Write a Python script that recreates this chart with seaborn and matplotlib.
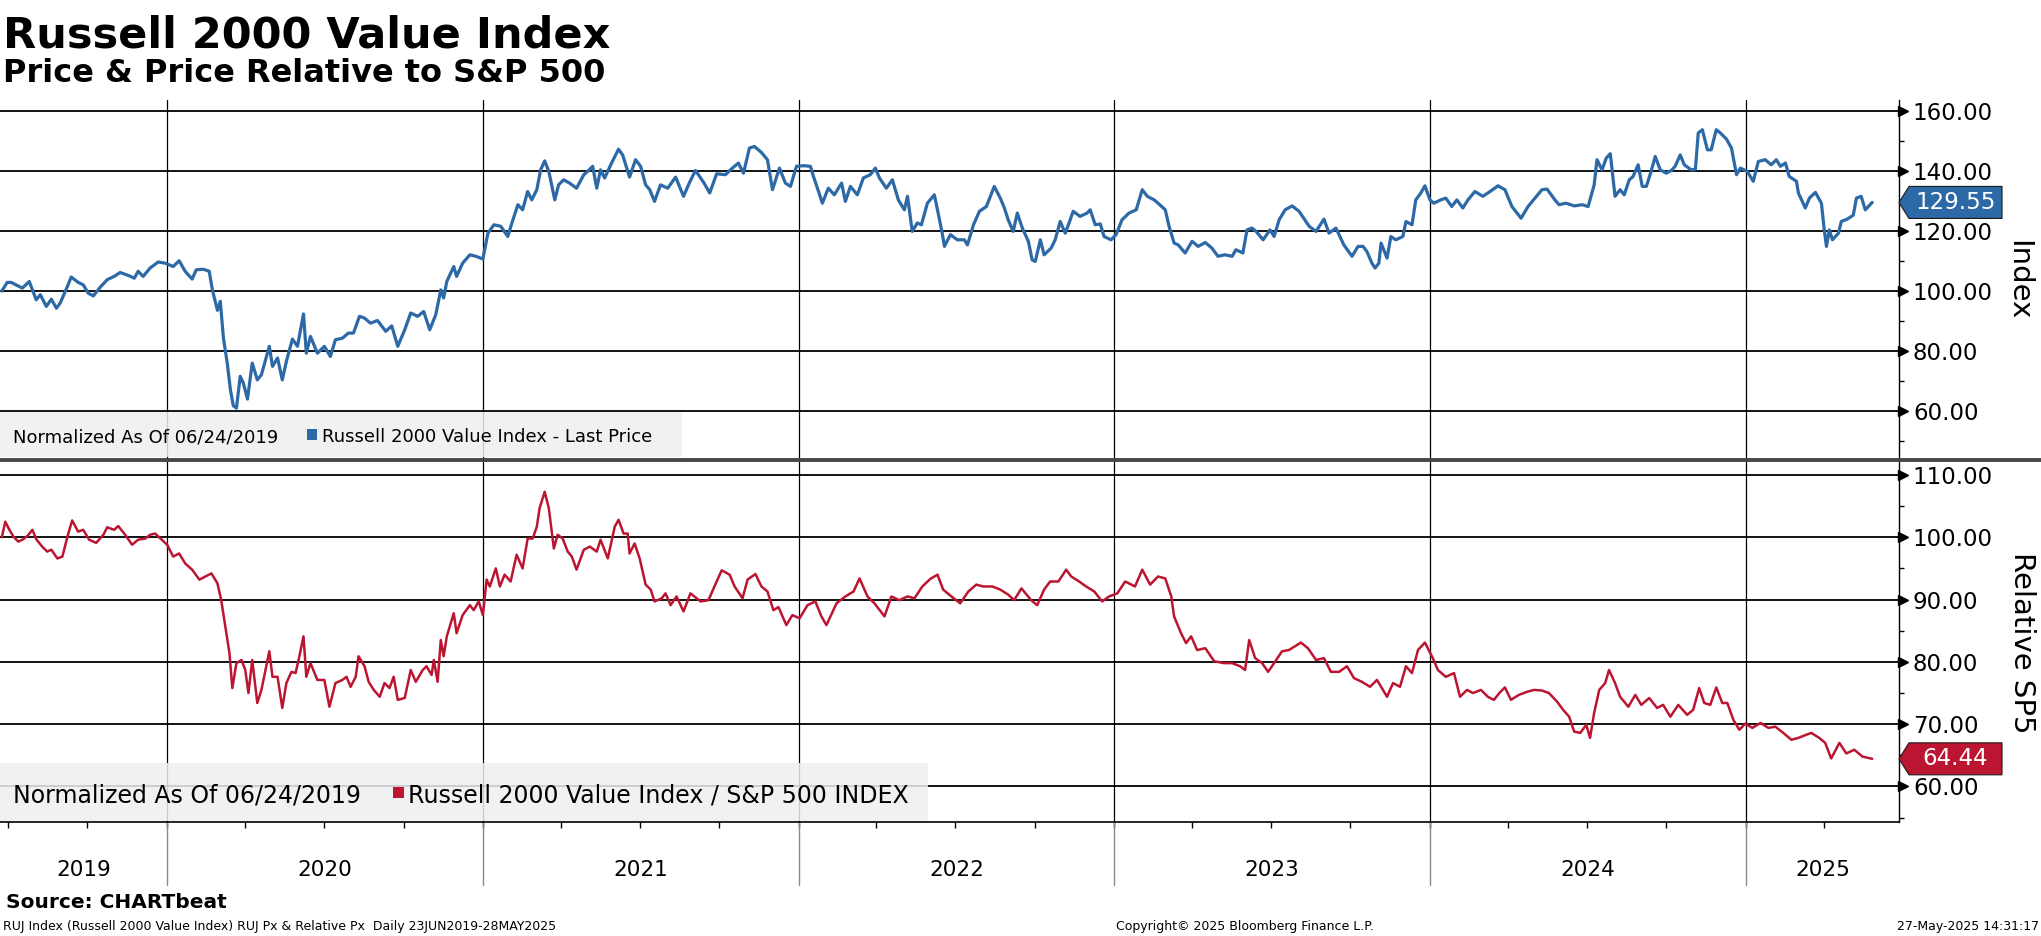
import numpy as np
import pandas as pd
import matplotlib
matplotlib.use("Agg")
import matplotlib.pyplot as plt
import matplotlib.transforms as mtrans
from matplotlib.patches import Polygon, Rectangle
from matplotlib.lines import Line2D
from matplotlib.ticker import FixedLocator, FormatStrFormatter
import seaborn as sns

BLUE = "#2c69a6"
RED = "#bc1531"

# --- data (decimal year, normalized value) ---
price_t = [
    2019.477, 2019.494, 2019.507, 2019.542, 2019.564, 2019.586, 2019.599, 2019.618, 2019.634, 2019.650,
    2019.662, 2019.685, 2019.697, 2019.719, 2019.735, 2019.751, 2019.767, 2019.789, 2019.811, 2019.833,
    2019.852, 2019.881, 2019.897, 2019.909, 2019.925, 2019.947, 2019.973, 2019.995, 2020.020, 2020.039,
    2020.058, 2020.080, 2020.093, 2020.115, 2020.134, 2020.144, 2020.160, 2020.169, 2020.179, 2020.191,
    2020.201, 2020.210, 2020.220, 2020.232, 2020.242, 2020.255, 2020.270, 2020.286, 2020.299, 2020.324,
    2020.334, 2020.350, 2020.365, 2020.378, 2020.397, 2020.413, 2020.432, 2020.441, 2020.454, 2020.476,
    2020.498, 2020.517, 2020.533, 2020.555, 2020.574, 2020.590, 2020.609, 2020.625, 2020.644, 2020.666,
    2020.692, 2020.711, 2020.730, 2020.752, 2020.771, 2020.793, 2020.812, 2020.831, 2020.850, 2020.866,
    2020.875, 2020.885, 2020.907, 2020.916, 2020.935, 2020.958, 2020.977, 2020.999, 2021.015, 2021.034,
    2021.056, 2021.078, 2021.091, 2021.110, 2021.125, 2021.141, 2021.154, 2021.170, 2021.182, 2021.195,
    2021.208, 2021.227, 2021.239, 2021.255, 2021.274, 2021.296, 2021.319, 2021.331, 2021.347, 2021.360,
    2021.372, 2021.385, 2021.407, 2021.429, 2021.442, 2021.464, 2021.483, 2021.499, 2021.515, 2021.528,
    2021.543, 2021.562, 2021.585, 2021.610, 2021.635, 2021.654, 2021.673, 2021.699, 2021.718, 2021.740,
    2021.768, 2021.790, 2021.809, 2021.825, 2021.844, 2021.860, 2021.882, 2021.901, 2021.917, 2021.939,
    2021.958, 2021.974, 2021.993, 2022.015, 2022.037, 2022.047, 2022.063, 2022.075, 2022.094, 2022.113,
    2022.136, 2022.148, 2022.164, 2022.186, 2022.205, 2022.227, 2022.243, 2022.256, 2022.278, 2022.297,
    2022.316, 2022.335, 2022.345, 2022.360, 2022.376, 2022.389, 2022.408, 2022.430, 2022.440, 2022.455,
    2022.462, 2022.481, 2022.503, 2022.525, 2022.535, 2022.554, 2022.573, 2022.595, 2022.620, 2022.639,
    2022.652, 2022.664, 2022.680, 2022.693, 2022.709, 2022.728, 2022.740, 2022.750, 2022.766, 2022.778,
    2022.800, 2022.813, 2022.829, 2022.845, 2022.857, 2022.870, 2022.892, 2022.914, 2022.924, 2022.940,
    2022.956, 2022.968, 2022.990, 2023.006, 2023.025, 2023.047, 2023.070, 2023.089, 2023.105, 2023.127,
    2023.139, 2023.162, 2023.174, 2023.190, 2023.203, 2023.225, 2023.247, 2023.266, 2023.289, 2023.310,
    2023.329, 2023.351, 2023.374, 2023.386, 2023.408, 2023.421, 2023.437, 2023.450, 2023.472, 2023.494,
    2023.507, 2023.523, 2023.542, 2023.564, 2023.586, 2023.618, 2023.640, 2023.665, 2023.681, 2023.703,
    2023.728, 2023.754, 2023.773, 2023.789, 2023.801, 2023.817, 2023.827, 2023.839, 2023.846, 2023.865,
    2023.877, 2023.893, 2023.915, 2023.925, 2023.944, 2023.956, 2023.972, 2023.985, 2024.001, 2024.013,
    2024.035, 2024.051, 2024.070, 2024.086, 2024.105, 2024.121, 2024.143, 2024.168, 2024.191, 2024.216,
    2024.238, 2024.260, 2024.289, 2024.311, 2024.333, 2024.355, 2024.371, 2024.396, 2024.409, 2024.431,
    2024.457, 2024.482, 2024.501, 2024.520, 2024.529, 2024.545, 2024.558, 2024.571, 2024.586, 2024.602,
    2024.615, 2024.631, 2024.643, 2024.659, 2024.672, 2024.685, 2024.700, 2024.713, 2024.729, 2024.748,
    2024.764, 2024.776, 2024.792, 2024.805, 2024.827, 2024.840, 2024.849, 2024.862, 2024.878, 2024.890,
    2024.906, 2024.919, 2024.938, 2024.954, 2024.970, 2024.982, 2025.004, 2025.023, 2025.039, 2025.061,
    2025.080, 2025.096, 2025.109, 2025.125, 2025.137, 2025.160, 2025.166, 2025.188, 2025.201, 2025.220,
    2025.239, 2025.248, 2025.255, 2025.264, 2025.274, 2025.293, 2025.302, 2025.321, 2025.340, 2025.350,
    2025.365, 2025.378, 2025.400,
]
price_v = [
    100.0, 102.9, 102.9, 101.0, 103.2, 97.1, 98.8, 94.9, 97.3, 94.3,
    96.0, 101.6, 104.7, 102.9, 102.1, 99.3, 98.4, 101.3, 103.8, 104.9,
    106.2, 105.1, 104.3, 106.6, 104.9, 107.7, 109.7, 109.3, 108.2, 110.1,
    106.6, 104.0, 107.1, 107.3, 106.6, 100.4, 93.6, 96.6, 84.3, 76.0,
    67.1, 61.8, 61.0, 71.6, 69.3, 64.0, 76.0, 70.4, 72.1, 81.6,
    74.9, 77.7, 70.4, 76.6, 84.0, 81.6, 92.4, 79.3, 84.9, 79.3,
    81.6, 78.2, 83.8, 84.3, 86.0, 86.0, 91.6, 91.0, 89.3, 90.2,
    86.6, 88.4, 81.6, 87.1, 92.7, 91.6, 93.2, 87.1, 92.1, 100.4,
    97.7, 103.2, 108.2, 104.9, 109.3, 112.1, 111.6, 110.7, 119.3, 122.1,
    121.6, 118.2, 122.7, 128.8, 127.1, 133.2, 130.4, 133.8, 140.4, 143.4,
    139.9, 130.4, 135.4, 137.1, 136.0, 134.3, 138.8, 139.9, 141.6, 134.3,
    140.4, 137.7, 142.7, 147.3, 145.4, 138.0, 143.8, 141.6, 135.4, 133.8,
    129.9, 135.4, 134.3, 138.0, 131.6, 136.2, 140.2, 136.2, 132.7, 139.1,
    138.8, 141.0, 142.7, 139.3, 147.7, 148.2, 146.2, 143.8, 133.8, 141.0,
    136.0, 134.9, 141.6, 141.8, 141.6, 138.2, 133.2, 129.3, 134.3, 132.1,
    136.0, 129.9, 134.9, 132.1, 137.7, 138.8, 141.0, 137.7, 134.3, 137.1,
    130.4, 127.1, 131.6, 119.9, 122.7, 122.1, 129.3, 132.1, 127.1, 119.3,
    114.9, 118.8, 117.1, 117.1, 115.4, 122.1, 126.6, 128.2, 134.9, 131.0,
    127.7, 123.8, 119.9, 126.0, 121.0, 116.6, 110.4, 109.9, 117.1, 112.1,
    114.3, 117.1, 123.2, 119.3, 122.7, 126.6, 124.9, 126.0, 127.1, 122.1,
    122.4, 118.2, 117.1, 118.8, 123.8, 126.0, 127.1, 133.8, 131.6, 130.4,
    129.3, 127.1, 121.6, 116.0, 115.4, 112.7, 116.6, 114.9, 116.2, 114.3,
    111.6, 112.1, 111.6, 113.8, 112.7, 120.4, 121.0, 119.9, 117.1, 120.4,
    118.2, 123.8, 127.1, 128.4, 126.6, 121.6, 119.9, 124.0, 119.3, 121.0,
    115.4, 111.6, 114.9, 114.9, 113.2, 109.3, 107.7, 109.3, 116.0, 111.0,
    118.2, 117.1, 118.2, 123.2, 122.1, 130.4, 132.7, 135.1, 130.4, 129.3,
    130.4, 131.0, 128.2, 130.4, 127.7, 130.4, 133.2, 131.6, 133.2, 135.1,
    133.8, 128.2, 124.3, 128.2, 131.0, 133.8, 134.0, 130.4, 128.8, 129.3,
    128.4, 128.8, 128.2, 135.4, 143.8, 140.4, 144.3, 145.8, 131.6, 133.8,
    132.1, 137.1, 138.2, 142.1, 134.9, 134.9, 139.9, 144.9, 140.4, 139.3,
    140.2, 141.6, 145.4, 142.1, 140.4, 140.6, 152.7, 153.8, 147.1, 147.1,
    153.8, 152.7, 150.7, 147.7, 138.8, 141.0, 139.9, 136.6, 143.2, 143.8,
    142.1, 143.8, 141.6, 142.7, 138.2, 136.6, 132.7, 127.7, 131.0, 132.9,
    129.3, 120.4, 114.9, 120.4, 117.1, 119.3, 123.2, 124.0, 125.3, 131.0,
    131.6, 127.1, 129.55,
]

rel_t = [
    2019.477, 2019.488, 2019.501, 2019.514, 2019.529, 2019.542, 2019.558, 2019.574, 2019.586, 2019.605,
    2019.621, 2019.634, 2019.653, 2019.669, 2019.685, 2019.700, 2019.719, 2019.735, 2019.754, 2019.776,
    2019.799, 2019.811, 2019.833, 2019.846, 2019.868, 2019.890, 2019.909, 2019.932, 2019.947, 2019.963,
    2019.982, 2020.001, 2020.020, 2020.039, 2020.058, 2020.080, 2020.103, 2020.122, 2020.141, 2020.160,
    2020.172, 2020.185, 2020.198, 2020.207, 2020.220, 2020.236, 2020.248, 2020.258, 2020.270, 2020.286,
    2020.299, 2020.324, 2020.334, 2020.350, 2020.365, 2020.378, 2020.394, 2020.407, 2020.419, 2020.432,
    2020.441, 2020.454, 2020.476, 2020.498, 2020.514, 2020.533, 2020.555, 2020.568, 2020.581, 2020.597,
    2020.606, 2020.625, 2020.638, 2020.654, 2020.673, 2020.688, 2020.704, 2020.717, 2020.730, 2020.752,
    2020.771, 2020.787, 2020.809, 2020.821, 2020.837, 2020.844, 2020.856, 2020.866, 2020.875, 2020.885,
    2020.907, 2020.916, 2020.935, 2020.958, 2020.970, 2020.986, 2020.999, 2021.011, 2021.021, 2021.040,
    2021.053, 2021.068, 2021.087, 2021.106, 2021.125, 2021.141, 2021.157, 2021.170, 2021.179, 2021.195,
    2021.208, 2021.224, 2021.236, 2021.252, 2021.268, 2021.281, 2021.296, 2021.319, 2021.338, 2021.360,
    2021.372, 2021.395, 2021.417, 2021.429, 2021.445, 2021.458, 2021.464, 2021.480, 2021.496, 2021.515,
    2021.531, 2021.543, 2021.566, 2021.578, 2021.594, 2021.613, 2021.635, 2021.657, 2021.689, 2021.714,
    2021.733, 2021.756, 2021.781, 2021.797, 2021.822, 2021.838, 2021.863, 2021.882, 2021.901, 2021.920,
    2021.936, 2021.961, 2021.980, 2022.003, 2022.028, 2022.053, 2022.072, 2022.088, 2022.120, 2022.148,
    2022.174, 2022.193, 2022.218, 2022.240, 2022.272, 2022.294, 2022.319, 2022.345, 2022.367, 2022.392,
    2022.417, 2022.440, 2022.458, 2022.484, 2022.512, 2022.538, 2022.563, 2022.585, 2022.614, 2022.639,
    2022.664, 2022.683, 2022.706, 2022.737, 2022.756, 2022.778, 2022.797, 2022.823, 2022.848, 2022.864,
    2022.889, 2022.911, 2022.937, 2022.962, 2022.984, 2023.010, 2023.035, 2023.066, 2023.089, 2023.114,
    2023.139, 2023.162, 2023.181, 2023.190, 2023.212, 2023.228, 2023.244, 2023.263, 2023.289, 2023.317,
    2023.348, 2023.374, 2023.399, 2023.415, 2023.428, 2023.447, 2023.469, 2023.488, 2023.507, 2023.532,
    2023.554, 2023.592, 2023.614, 2023.640, 2023.665, 2023.687, 2023.713, 2023.738, 2023.760, 2023.785,
    2023.811, 2023.833, 2023.865, 2023.884, 2023.906, 2023.925, 2023.944, 2023.963, 2023.985, 2024.010,
    2024.026, 2024.051, 2024.077, 2024.096, 2024.118, 2024.137, 2024.162, 2024.184, 2024.203, 2024.222,
    2024.238, 2024.257, 2024.282, 2024.308, 2024.330, 2024.355, 2024.377, 2024.403, 2024.422, 2024.441,
    2024.457, 2024.476, 2024.495, 2024.507, 2024.520, 2024.536, 2024.555, 2024.567, 2024.586, 2024.602,
    2024.628, 2024.650, 2024.669, 2024.694, 2024.719, 2024.738, 2024.761, 2024.786, 2024.814, 2024.833,
    2024.852, 2024.868, 2024.887, 2024.906, 2024.925, 2024.941, 2024.960, 2024.979, 2024.998, 2025.020,
    2025.046, 2025.071, 2025.093, 2025.118, 2025.144, 2025.166, 2025.191, 2025.207, 2025.232, 2025.251,
    2025.270, 2025.296, 2025.318, 2025.343, 2025.369, 2025.400,
]
rel_v = [
    100.0, 102.5, 101.2, 100.1, 99.3, 99.6, 100.2, 101.2, 99.7, 98.5,
    97.7, 98.0, 96.6, 96.9, 100.1, 102.7, 100.9, 101.2, 99.6, 99.1,
    100.4, 101.6, 101.2, 101.8, 100.4, 98.8, 99.6, 99.8, 100.4, 100.6,
    99.7, 98.8, 96.9, 97.4, 95.8, 94.8, 93.2, 93.7, 94.2, 92.6,
    89.9, 85.7, 81.4, 75.8, 79.8, 80.3, 78.7, 75.0, 80.3, 73.4,
    75.5, 81.7, 77.6, 77.6, 72.6, 76.6, 78.4, 78.2, 80.9, 84.1,
    77.6, 79.8, 77.1, 77.1, 72.8, 76.6, 77.1, 77.6, 76.0, 77.6,
    80.9, 79.3, 76.8, 75.5, 74.4, 76.6, 75.8, 77.6, 73.9, 74.2,
    78.7, 76.8, 78.7, 79.3, 77.9, 80.3, 76.8, 83.5, 80.9, 84.1,
    87.8, 84.6, 87.5, 89.1, 88.3, 89.7, 87.5, 93.2, 92.1, 95.0,
    92.1, 94.0, 92.9, 97.2, 95.0, 99.8, 99.8, 101.7, 104.7, 107.3,
    104.7, 98.2, 100.4, 99.8, 97.7, 96.9, 94.8, 98.0, 98.5, 97.7,
    99.6, 96.6, 101.7, 102.8, 100.6, 100.6, 97.4, 99.0, 96.6, 92.4,
    91.6, 89.7, 90.2, 91.0, 89.1, 90.5, 88.1, 91.0, 89.7, 89.9,
    92.1, 94.7, 94.0, 92.1, 90.2, 93.2, 94.1, 92.1, 91.3, 88.3,
    88.8, 85.9, 87.5, 87.0, 89.1, 89.7, 87.3, 85.9, 89.4, 90.5,
    91.3, 93.4, 90.5, 89.4, 87.3, 90.5, 89.9, 90.5, 90.2, 92.1,
    93.3, 94.0, 91.6, 90.5, 89.4, 91.3, 92.4, 92.1, 92.1, 91.6,
    90.8, 89.9, 91.8, 89.9, 89.1, 91.6, 92.9, 92.9, 94.8, 93.7,
    92.9, 92.1, 91.3, 89.7, 90.5, 91.0, 92.9, 92.1, 94.8, 92.4,
    93.7, 93.4, 90.5, 87.3, 84.6, 83.0, 84.1, 81.9, 82.2, 80.1,
    79.8, 79.8, 79.3, 78.7, 83.5, 80.6, 79.8, 78.4, 79.8, 81.7,
    81.9, 83.1, 82.2, 80.3, 80.6, 78.4, 78.4, 79.3, 77.4, 76.8,
    76.0, 77.1, 74.4, 76.6, 76.0, 79.3, 78.2, 81.9, 83.1, 80.6,
    78.7, 77.6, 78.2, 74.4, 75.5, 75.0, 75.5, 74.4, 73.9, 75.1,
    75.9, 73.9, 74.7, 75.2, 75.5, 75.4, 75.0, 73.6, 72.3, 71.2,
    68.8, 68.6, 69.9, 67.8, 71.8, 75.5, 76.6, 78.7, 76.6, 74.4,
    72.8, 74.7, 73.1, 74.2, 72.6, 73.1, 71.2, 73.1, 71.5, 72.3,
    75.8, 73.4, 73.1, 75.9, 73.4, 73.4, 70.7, 69.1, 70.1, 69.4,
    70.2, 69.4, 69.6, 68.6, 67.5, 67.8, 68.3, 68.6, 67.8, 67.0,
    64.5, 67.0, 65.3, 65.9, 64.8, 64.44,
]

price_last = 129.55
rel_last = 64.44
year_bounds = [2020, 2021, 2022, 2023, 2024, 2025]
year_labels = ["2019", "2020", "2021", "2022", "2023", "2024", "2025"]
price_ticks = [60, 80, 100, 120, 140, 160]
price_minor = [50, 70, 90, 110, 130, 150]
rel_ticks = [60, 70, 80, 90, 100, 110]
rel_minor = [55, 65, 75, 85, 95, 105]
x_start, x_end = pd.Timestamp("2019-06-22"), pd.Timestamp("2025-06-27")


def to_dates(ts):
    out = []
    for t in ts:
        y = int(np.floor(t))
        start = pd.Timestamp(year=y, month=1, day=1)
        n = (pd.Timestamp(year=y + 1, month=1, day=1) - start).days
        out.append(start + pd.Timedelta(days=(t - y) * n))
    return pd.DatetimeIndex(out)


sns.set_theme(style="white")
plt.rcParams["font.family"] = ["DejaVu Sans"]
plt.rcParams.update({"text.color": "black", "axes.labelcolor": "black",
                     "xtick.color": "black", "ytick.color": "black"})

W, H = 2041, 936
fig = plt.figure(figsize=(W / 100, H / 100), dpi=100)
ax1 = fig.add_axes([0, 1 - 460 / H, 1899 / W, 360 / H])
ax2 = fig.add_axes([0, 1 - 822 / H, 1899 / W, 362 / H])

bounds = [pd.Timestamp(f"{y}-01-01") for y in year_bounds]
edges = [x_start] + bounds + [x_end]
mids = [a + (b - a) / 2 for a, b in zip(edges[:-1], edges[1:])]
quarters = pd.date_range("2019-07-01", "2025-04-01", freq="QS")


def style_axes(ax, ticks, minor, ylim):
    ax.set_xlim(x_start, x_end)
    ax.set_ylim(*ylim)
    for s in ("left", "top"):
        ax.spines[s].set_visible(False)
    ax.spines["right"].set_color("black")
    ax.spines["right"].set_linewidth(1.0)
    ax.spines["bottom"].set_color("black")
    ax.spines["bottom"].set_linewidth(1.2)
    ax.yaxis.tick_right()
    ax.set_yticks(ticks)
    ax.yaxis.set_minor_locator(FixedLocator(minor))
    ax.yaxis.set_major_formatter(FormatStrFormatter("%.2f"))
    ax.tick_params(axis="y", which="both", left=False, right=True,
                   labelleft=False, labelright=True)
    ax.tick_params(axis="y", which="major", length=0, pad=10, labelsize=16.5,
                   labelcolor="black")
    ax.tick_params(axis="y", which="minor", length=3.5, width=1, color="black",
                   direction="out")
    ax.set_axisbelow(True)
    ax.yaxis.grid(True, which="major", color="black", lw=1.3)
    ax.xaxis.grid(False)
    for b in bounds:
        ax.axvline(b, color="black", lw=0.9, zorder=1)
    tr = mtrans.blended_transform_factory(ax.transAxes, ax.transData)
    ax.plot([1 + 4 / 1899] * len(ticks), ticks, ls="none", marker=">", ms=6.5,
            color="black", transform=tr, clip_on=False, zorder=5)
    ax.set_xlabel("")
    ax.set_ylabel("")


def value_tag(ax, value, color):
    lo, hi = ax.get_ylim()
    ppu = ax.get_position().height * H / (hi - lo)
    h = 32 / ppu / 2
    tr = mtrans.blended_transform_factory(ax.transAxes, ax.transData)
    xa, xb = 1 + 10 / 1899, 1 + 103 / 1899
    poly = Polygon([(1.0, value), (xa, value + h), (xb, value + h), (xb, value - h),
                    (xa, value - h)], closed=True, transform=tr, fc=color, ec="#1a1a1a",
                   lw=0.8, clip_on=False, zorder=6)
    ax.add_patch(poly)
    ax.text((xa + xb) / 2, value, f"{value:.2f}", transform=tr, color="white",
            fontsize=16.5, ha="center", va="center", zorder=7, clip_on=False)


def legend_box(ax, box, square, texts, size, color):
    ax.add_patch(Rectangle(box[:2], box[2], box[3], transform=ax.transAxes,
                           fc="#efefef", ec="none", alpha=0.85, zorder=2.5, clip_on=False))
    ax.add_patch(Rectangle(square[:2], square[2], square[3], transform=ax.transAxes,
                           fc=color, ec="none", zorder=3))
    for x, y, s in texts:
        ax.text(x, y, s, transform=ax.transAxes, fontsize=size, color="black",
                va="baseline", ha="left", zorder=3)


# --- top: price ---
sns.lineplot(x=to_dates(price_t), y=price_v, ax=ax1, color=BLUE, lw=2.3, zorder=4)
style_axes(ax1, price_ticks, price_minor, (43.7, 163.7))
ax1.spines["bottom"].set_visible(False)
ax1.set_xticks([])
value_tag(ax1, price_last, BLUE)
legend_box(ax1, (0, 0.008, 0.359, 0.125), (0.1617, 0.0556, 0.0053, 0.0306),
           [(0.0066, 0.05, "Normalized As Of 06/24/2019"),
            (0.1696, 0.05, "Russell 2000 Value Index - Last Price")], 13, BLUE)

# --- bottom: relative to S&P 500 ---
sns.lineplot(x=to_dates(rel_t), y=rel_v, ax=ax2, color=RED, lw=1.8, zorder=4)
style_axes(ax2, rel_ticks, rel_minor, (54.3, 112.4))
ax2.set_xticks(mids)
ax2.set_xticklabels(year_labels)
ax2.xaxis.set_minor_locator(FixedLocator(matplotlib.dates.date2num(quarters)))
ax2.tick_params(axis="x", which="major", length=0, pad=27, labelsize=15.5,
                bottom=True, labelcolor="black")
ax2.tick_params(axis="x", which="minor", length=4, width=1, color="black",
                direction="out", bottom=True)
trx = mtrans.blended_transform_factory(ax2.transData, ax2.transAxes)
for b in bounds:
    ax2.plot([b, b], [0, -0.175], transform=trx, color="#8a8a8a", lw=1.0, clip_on=False)
value_tag(ax2, rel_last, RED)
legend_box(ax2, (0, 0.003, 0.4887, 0.160), (0.2069, 0.0663, 0.0058, 0.0304),
           [(0.0068, 0.0525, "Normalized As Of 06/24/2019"),
            (0.2148, 0.0525, "Russell 2000 Value Index / S&P 500 INDEX")], 17, RED)

# separator between the panels
fig.add_artist(Line2D([0, 1], [1 - 460 / H] * 2, transform=fig.transFigure,
                      color="#474747", lw=2.8, zorder=10))

# axis titles on the right
fig.text(2018 / W, 1 - 280 / H, "Index", rotation=270, fontsize=21, ha="center", va="center")
fig.text(2022 / W, 1 - 643 / H, "Relative SP5", rotation=270, fontsize=21,
         ha="center", va="center")

# titles
fig.text(3 / W, 1 - 47 / H, "Russell 2000 Value Index", fontsize=31, fontweight="bold",
         va="baseline", color="black")
fig.text(3 / W, 1 - 82 / H, "Price & Price Relative to S&P 500", fontsize=23,
         fontweight="bold", va="baseline", color="black")

# footer
fig.text(6 / W, 1 - 908 / H, "Source: CHARTbeat", fontsize=14.5, fontweight="bold",
         va="baseline")
fig.text(3 / W, 1 - 930 / H,
         "RUJ Index (Russell 2000 Value Index) RUJ Px & Relative Px  Daily 23JUN2019-28MAY2025",
         fontsize=9, va="baseline")
fig.text(1116 / W, 1 - 930 / H, "Copyright\u00a9 2025 Bloomberg Finance L.P.", fontsize=9,
         va="baseline")
fig.text(2039 / W, 1 - 930 / H, "27-May-2025 14:31:17", fontsize=9, va="baseline", ha="right")

fig.savefig("out.png", dpi=100, facecolor="white")
